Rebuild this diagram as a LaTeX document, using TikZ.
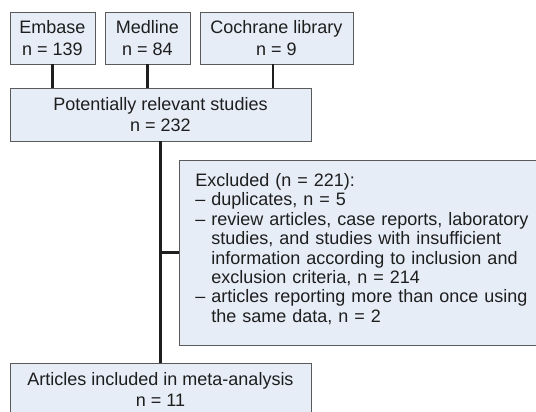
\documentclass[tikz,border=0pt]{standalone}
\usepackage{fontspec}
\setmainfont{Liberation Sans}
\definecolor{boxfill}{HTML}{E6EDF7}
\definecolor{boxline}{HTML}{5A5A5A}
\definecolor{inkdark}{HTML}{1E1E1E}
\begin{document}
\begin{tikzpicture}[x=1pt,y=-1pt,
    box/.style={draw=boxline,fill=boxfill,line width=0.8pt,text=inkdark,
      align=center,inner sep=0pt,font=\fontsize{18}{21.5}\selectfont},
    listbox/.style={box,align=left,font=\fontsize{18}{19.4}\selectfont},
    link/.style={draw=inkdark,line width=2.6pt}]
  \useasboundingbox (0,0) rectangle (536,412);
  \draw
    (52.5,38) node[box,minimum width=85,minimum height=52] (embase) {Embase\\n = 139}
    (147.5,38) node[box,minimum width=85,minimum height=52] (medline) {Medline\\n = 84}
    (276.5,38) node[box,minimum width=153,minimum height=52] (cochrane) {Cochrane library\\n = 9}
    (160.5,114.5) node[box,minimum width=301,minimum height=53] (relevant) {Potentially relevant studies\\n = 232}
    (178.5,252.5) node[listbox,anchor=west,text width=350,inner xsep=16.5,minimum height=185] (excluded)
      {Excluded (n = 221):\\
       – duplicates, n = 5\\
       – review articles, case reports, laboratory\\
       \hphantom{– }studies, and studies with insufficient\\
       \hphantom{– }information according to inclusion and\\
       \hphantom{– }exclusion criteria, n = 214\\
       – articles reporting more than once using\\
       \hphantom{– }the same data, n = 2\vspace{7pt}}
    (160.5,389.5) node[box,minimum width=301,minimum height=53] (included) {Articles included in meta-analysis\\n = 11};
  \begin{scope}[link]
    \draw (embase) -- (embase |- relevant.north);
    \draw (medline) -- (medline |- relevant.north);
    \draw (cochrane.south -| 273,0) -- (273,0 |- relevant.north);
    \draw (relevant) -- (included);
    \draw (relevant.south |- excluded.west) -- (excluded.west);
  \end{scope}
\end{tikzpicture}
\end{document}
